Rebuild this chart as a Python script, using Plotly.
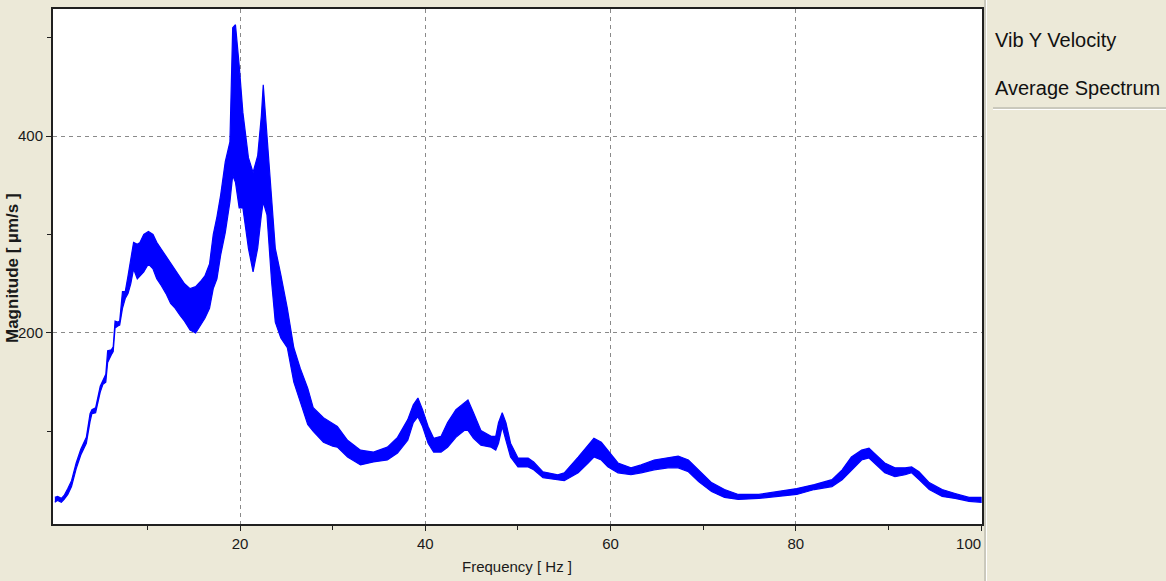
import plotly.graph_objects as go

# ---- data (frequency in Hz, envelope of the noisy trace in µm/s)
freq = [0.0, 0.3, 0.7, 1.0, 1.4, 1.8, 2.3, 2.8, 3.4, 3.8, 4.0, 4.4, 4.9, 5.2, 5.5, 5.7,
        6.1, 6.3, 6.5, 6.8, 7.0, 7.3, 7.6, 7.9, 8.2, 8.5, 8.9, 9.2, 9.6, 10.1, 10.6, 11.0,
        11.5, 12.0, 12.5, 13.0, 13.5, 14.0, 14.6, 15.2, 15.7, 16.2, 16.7, 17.1, 17.5, 17.9,
        18.4, 18.9, 19.2, 19.5, 19.9, 20.3, 20.9, 21.4, 21.9, 22.3, 22.5, 22.9, 23.4, 23.8,
        24.4, 25.1, 25.8, 26.5, 27.3, 27.9, 29.0, 30.0, 30.5, 31.6, 33.0, 34.4, 35.9, 37.0,
        38.1, 38.7, 39.2, 39.7, 40.3, 40.9, 41.7, 42.4, 43.3, 44.2, 44.6, 45.2, 46.0, 47.1,
        47.6, 47.9, 48.3, 48.7, 49.2, 50.0, 51.1, 51.7, 52.7, 54.3, 55.0, 56.5, 57.6, 58.2,
        59.0, 59.7, 60.8, 62.2, 63.3, 64.7, 66.2, 67.3, 68.4, 69.5, 70.9, 72.3, 73.8, 76.0,
        78.1, 80.1, 82.0, 83.9, 85.0, 86.0, 87.1, 87.9, 88.7, 89.6, 90.7, 91.8, 92.5, 93.3,
        94.4, 95.8, 97.2, 98.7, 100.0]
mag_low = [28, 30, 28, 31, 36, 44, 62, 76, 88, 110, 118, 119, 140, 148, 150, 170,
           178, 181, 205, 207, 208, 225, 235, 240, 250, 265, 255, 258, 262, 270, 265, 255,
           248, 240, 230, 225, 218, 212, 203, 200, 208, 215, 225, 245, 255, 279,
           302, 333, 360, 353, 327, 327, 286, 262, 286, 320, 333, 320, 252, 211,
           195, 185, 150, 130, 107, 100, 89, 85, 84, 74, 66, 69, 71, 78,
           91, 109, 115, 105, 88, 79, 79, 84, 94, 101, 101, 93, 86, 84,
           81, 88, 105, 91, 74, 64, 64, 61, 53, 51, 50, 58, 68, 74,
           71, 64, 58, 56, 58, 61, 63, 63, 59, 49, 39, 33, 31, 32,
           34, 36, 41, 44, 51, 61, 71, 73, 66, 58, 54, 56, 58, 51,
           41, 34, 32, 29, 28]
mag_high = [33, 34, 32, 35, 42, 50, 68, 82, 94, 118, 122, 124, 146, 152, 158, 182,
            183, 186, 212, 211, 212, 242, 242, 258, 275, 292, 290, 292, 300, 303, 300, 292,
            285, 278, 272, 265, 258, 250, 245, 247, 252, 258, 270, 300, 318, 340,
            374, 394, 510, 513, 472, 424, 378, 363, 380, 421, 452, 401, 330, 286,
            259, 225, 185, 164, 144, 124, 114, 108, 105, 91, 81, 79, 84, 94,
            112, 127, 134, 122, 105, 93, 95, 109, 122, 129, 132, 119, 101, 95,
            95, 109, 119, 109, 88, 73, 73, 69, 59, 56, 58, 74, 86, 93,
            89, 81, 68, 63, 66, 71, 73, 75, 71, 61, 48, 41, 36, 36,
            39, 42, 46, 51, 61, 74, 81, 83, 76, 68, 63, 63, 64, 59,
            48, 41, 37, 33, 33]

x_major_ticks = [20, 40, 60, 80, 100]
x_tick_labels = ["20", "40", "60", "80", "100" + "\u00a0" * 6]
x_minor_ticks = [10, 30, 50, 70, 90]
y_major_ticks = [200, 400]
y_minor_ticks = [100, 300, 500]

x_title = "Frequency [ Hz ]"
y_title = "Magnitude [ µm/s ]"
panel_lines = ["Vib Y Velocity", "Average Spectrum"]

# ---- layout geometry (pixels)
W, H = 1166, 581
L, R, T, B = 53, 982, 9, 524
BG = "#ECE9D8"
BLUE = "#0000FF"
SANS = "Liberation Sans, Arial, sans-serif"


def px(xp):
    return (xp - L) / (R - L)


def py(yp):
    return (B - yp) / (B - T)


fig = go.Figure()
fig.add_trace(go.Scatter(
    x=freq + freq[::-1],
    y=mag_high + mag_low[::-1],
    mode="lines",
    fill="toself",
    fillcolor=BLUE,
    line=dict(color=BLUE, width=1.2),
    hoverinfo="skip",
    showlegend=False,
))

axis_common = dict(
    showline=True, mirror=True, linecolor="#202020", linewidth=2,
    ticks="outside", ticklen=5, tickwidth=1.3, tickcolor="#202020",
    showgrid=True, gridcolor="#8A8A8A", gridwidth=1, griddash="4px,4px",
    zeroline=False, tickfont=dict(family=SANS, size=15, color="#1a1a1a"),
)

fig.update_xaxes(
    range=[-0.2, 100.1], tickmode="array", tickvals=x_major_ticks, ticktext=x_tick_labels,
    minor=dict(tickmode="array", tickvals=x_minor_ticks, ticks="outside",
               ticklen=4, tickwidth=1.3, tickcolor="#202020", showgrid=False),
    **axis_common,
)
fig.update_yaxes(
    range=[6, 529], tickmode="array", tickvals=y_major_ticks,
    minor=dict(tickmode="array", tickvals=y_minor_ticks, ticks="outside",
               ticklen=4, tickwidth=1.3, tickcolor="#202020", showgrid=False),
    **axis_common,
)

annotations = [
    dict(x=px(517), y=py(566), text=x_title, showarrow=False,
         xref="paper", yref="paper", xanchor="center", yanchor="middle",
         font=dict(family=SANS, size=15, color="#1a1a1a")),
    dict(x=px(12), y=py(268), text="<b>" + y_title + "</b>", showarrow=False,
         textangle=-90, xref="paper", yref="paper", xanchor="center", yanchor="middle",
         font=dict(family=SANS, size=17, color="#1a1a1a")),
    dict(x=px(993), y=py(40), text=panel_lines[0], showarrow=False,
         xref="paper", yref="paper", xanchor="left", yanchor="middle",
         font=dict(family=SANS, size=20, color="#111111")),
    dict(x=px(993), y=py(88), text=panel_lines[1], showarrow=False,
         xref="paper", yref="paper", xanchor="left", yanchor="middle",
         font=dict(family=SANS, size=20, color="#111111")),
]

shapes = [
    dict(type="line", xref="paper", yref="paper", x0=px(985), x1=px(985),
         y0=py(H), y1=py(0), line=dict(color="#A8A8A0", width=1)),
    dict(type="line", xref="paper", yref="paper", x0=px(986.5), x1=px(986.5),
         y0=py(H), y1=py(0), line=dict(color="#FFFFFF", width=1)),
    dict(type="line", xref="paper", yref="paper", x0=px(993), x1=px(W),
         y0=py(108), y1=py(108), line=dict(color="#A8A8A0", width=1)),
    dict(type="line", xref="paper", yref="paper", x0=px(993), x1=px(W),
         y0=py(109.5), y1=py(109.5), line=dict(color="#FFFFFF", width=1)),
]

fig.update_layout(
    width=W, height=H,
    margin=dict(l=L, r=W - R, t=T, b=H - B, autoexpand=False),
    paper_bgcolor=BG, plot_bgcolor="#FFFFFF",
    annotations=annotations, shapes=shapes,
    showlegend=False,
)

fig.write_html("out.html", config={"displayModeBar": False})

# remove the browser's default page margin so the figure sits at the window origin
with open("out.html", "r", encoding="utf-8") as fh:
    page = fh.read()
page = page.replace("<body>", '<body style="margin:0;padding:0;overflow:hidden">', 1)
with open("out.html", "w", encoding="utf-8") as fh:
    fh.write(page)
